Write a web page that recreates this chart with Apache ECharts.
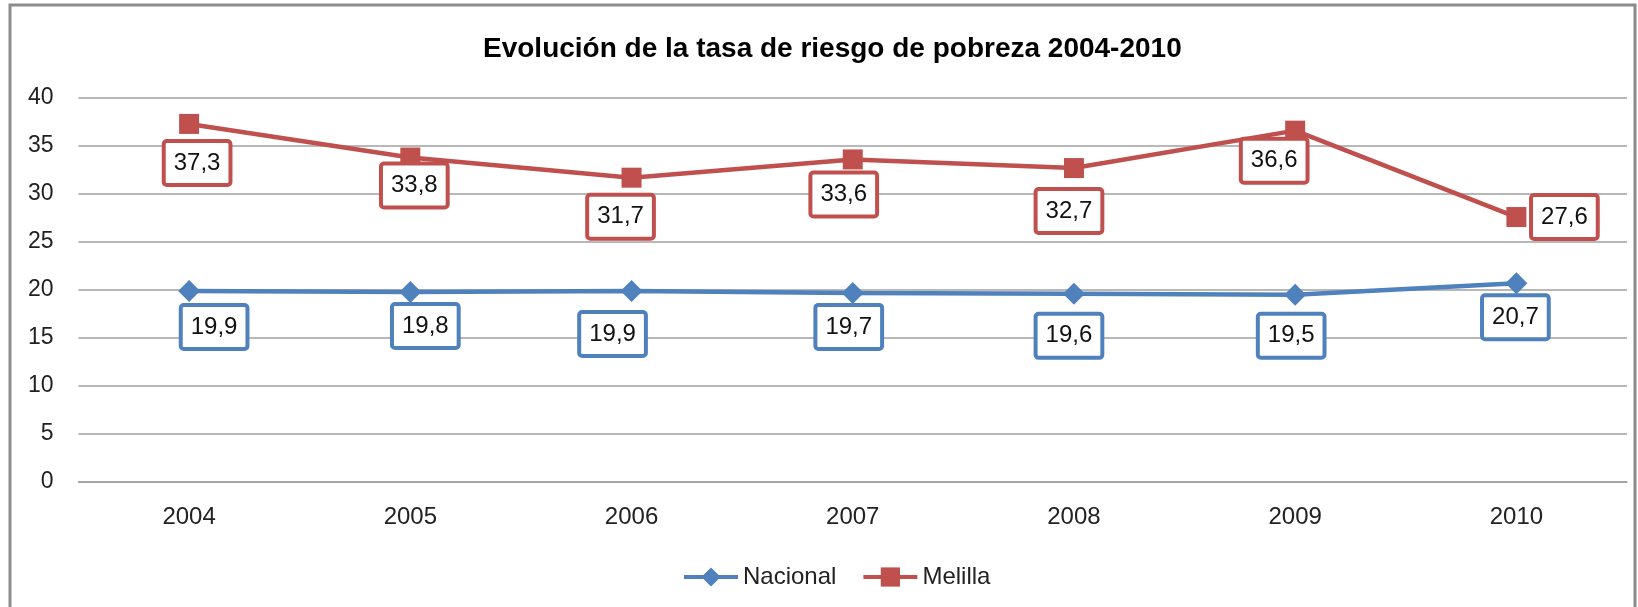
<!DOCTYPE html>
<html>
<head>
<meta charset="utf-8">
<script src="https://cdn.jsdelivr.net/npm/echarts@6/dist/echarts.min.js"></script>
<style>
html,body{margin:0;padding:0;background:#fff;}
#chart{width:1638px;height:607px;}
</style>
</head>
<body>
<div id="chart"></div>
<script>
const categories = ['2004','2005','2006','2007','2008','2009','2010'];
const nacional = [19.9, 19.8, 19.9, 19.7, 19.6, 19.5, 20.7];
const melilla = [37.3, 33.8, 31.7, 33.6, 32.7, 36.6, 27.6];
const yTicks = { min: 0, max: 40, interval: 5 };
const titleText = 'Evolución de la tasa de riesgo de pobreza 2004-2010';

// label placement offsets (relative to each point)
const nacionalLabelOffsets = [[25,36],[15,34],[-19,43],[-4,34],[-5,42],[-4,41],[-1,34]];
const melillaLabelOffsets = [[8,39],[4,28],[-11,39],[-9,35],[-5,43],[-21,30],[48,0]];

const FONT = 'Liberation Sans';
function fmt(v){ return String(v).replace('.', ','); }

function labelBox(color){
  return {
    show: true,
    position: 'inside',
    formatter: p => fmt(p.value),
    fontFamily: FONT,
    fontSize: 24,
    color: '#111',
    backgroundColor: '#fff',
    borderColor: color,
    borderWidth: 4,
    borderRadius: 1,
    padding: [8, 8, 7, 8],
    lineHeight: 25
  };
}

function build(values, offsets){
  return values.map((v, i) => ({ value: v, label: { offset: offsets[i] } }));
}

const chart = echarts.init(document.getElementById('chart'), null, { renderer: 'canvas' });
chart.setOption({
  animation: false,
  backgroundColor: '#fff',
  title: {
    text: titleText,
    left: 478,
    top: 30,
    padding: 5,
    textStyle: { fontFamily: FONT, fontSize: 28, fontWeight: 'bold', color: '#000' }
  },
  legend: {
    data: ['Nacional', 'Melilla'],
    left: 677,
    top: 560,
    itemWidth: 54,
    itemHeight: 24,
    itemGap: 25,
    lineStyle: { width: 4 },
    textStyle: { fontFamily: FONT, fontSize: 24, color: '#222' }
  },
  grid: { left: 78.5, right: 11, top: 98, bottom: 125 },
  xAxis: {
    type: 'category',
    data: categories,
    boundaryGap: true,
    axisLine: { show: true, lineStyle: { color: '#a0a0a0', width: 1.5 } },
    axisTick: { show: false },
    axisLabel: { fontFamily: FONT, fontSize: 24, color: '#222', margin: 23 }
  },
  yAxis: {
    type: 'value',
    min: yTicks.min, max: yTicks.max, interval: yTicks.interval,
    axisLine: { show: false },
    axisTick: { show: false },
    axisLabel: { fontFamily: FONT, fontSize: 23, color: '#222', margin: 25 },
    splitLine: { lineStyle: { color: '#a0a0a0', width: 1.5 } }
  },
  series: [
    {
      name: 'Nacional',
      type: 'line',
      data: build(nacional, nacionalLabelOffsets),
      symbol: 'diamond',
      symbolSize: 22,
      lineStyle: { color: '#4F81BD', width: 4.5 },
      itemStyle: { color: '#4F81BD' },
      label: labelBox('#4F81BD'),
      z: 3
    },
    {
      name: 'Melilla',
      type: 'line',
      data: build(melilla, melillaLabelOffsets),
      symbol: 'rect',
      symbolSize: 20,
      lineStyle: { color: '#C0504D', width: 4.5 },
      itemStyle: { color: '#C0504D' },
      label: labelBox('#C0504D'),
      z: 3
    }
  ],
  graphic: [
    {
      type: 'rect',
      shape: { x: 10, y: 5, width: 1625, height: 640 },
      style: { fill: 'none', stroke: '#8c8c8c', lineWidth: 3 },
      silent: true,
      z: -1
    }
  ]
});
</script>
</body>
</html>
